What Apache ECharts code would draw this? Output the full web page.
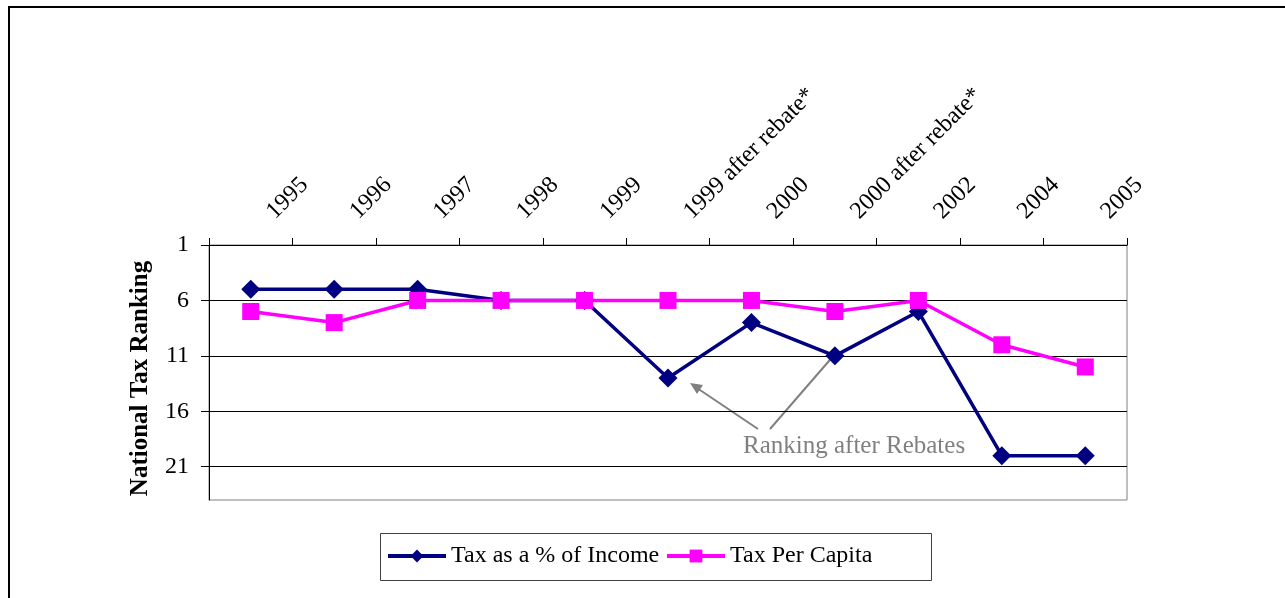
<!DOCTYPE html>
<html><head><meta charset="utf-8">
<script src="https://cdn.jsdelivr.net/npm/echarts@6/dist/echarts.min.js"></script>
<style>html,body{margin:0;padding:0;background:#fff}#c{width:1285px;height:598px}</style>
</head><body><div id="c"></div>
<script>
const categories = ['1995','1996','1997','1998','1999','1999 after rebate*','2000','2000 after rebate*','2002','2004','2005'];
const taxPctIncome = [5,5,5,6,6,13,8,11,7,20,20];
const taxPerCapita = [7,8,6,6,6,6,6,7,6,10,12];
const yTicks = [1,6,11,16,21];
const seriesNames = ['Tax as a % of Income', 'Tax Per Capita'];
const FONT = 'Liberation Serif';

const legendBase = {
  top: 544, itemWidth: 58, itemHeight: 16, padding: 0,
  textStyle: {fontFamily: FONT, fontSize: 24, color: '#000'}
};

const chart = echarts.init(document.getElementById('c'));
chart.setOption({
  animation: false,
  backgroundColor: '#fff',
  grid: {left: 209, top: 245, right: 158, bottom: 98, show: true, borderColor: '#808080', borderWidth: 1, backgroundColor: 'transparent'},
  xAxis: {
    type: 'category', data: categories, position: 'top', boundaryGap: true,
    axisLine: {show: true, lineStyle: {color: '#000', width: 1}},
    axisTick: {show: true, length: 7, inside: false, lineStyle: {color: '#000'}},
    axisLabel: {rotate: -45, interval: 0, fontFamily: FONT, fontSize: 24, color: '#000', margin: 10, padding: [0, 0, 0, 28]},
    splitLine: {show: false}
  },
  yAxis: {
    type: 'value', inverse: true, min: 1, max: 24, interval: 5,
    name: 'National Tax Ranking', nameLocation: 'middle', nameRotate: 90, nameGap: 56,
    nameTextStyle: {fontFamily: FONT, fontSize: 25, fontWeight: 'bold', color: '#000', padding: [0, 12, 0, 0]},
    axisLine: {show: true, lineStyle: {color: '#000', width: 1}},
    axisTick: {show: true, length: 8, lineStyle: {color: '#000'}, customValues: yTicks},
    axisLabel: {fontFamily: FONT, fontSize: 24, color: '#000', margin: 20, customValues: yTicks},
    splitLine: {show: true, lineStyle: {color: '#000', width: 1}}
  },
  legend: [
    Object.assign({left: 386, data: [{name: seriesNames[0], lineStyle: {width: 4}}]}, legendBase),
    Object.assign({left: 665, data: [{name: seriesNames[1], lineStyle: {width: 4}}]}, legendBase)
  ],
  series: [
    {name: seriesNames[0], type: 'line', data: taxPctIncome, symbol: 'diamond', symbolSize: 19,
     lineStyle: {color: '#000080', width: 3.5}, itemStyle: {color: '#000080'}},
    {name: seriesNames[1], type: 'line', data: taxPerCapita, symbol: 'rect', symbolSize: 17,
     lineStyle: {color: '#FF00FF', width: 3.5}, itemStyle: {color: '#FF00FF'}}
  ],
  graphic: [
    {type: 'rect', shape: {x: 9, y: 7, width: 1400, height: 700}, style: {fill: 'none', stroke: '#000', lineWidth: 2}, silent: true},
    {type: 'rect', shape: {x: 380.5, y: 533.5, width: 551, height: 47}, style: {fill: 'none', stroke: '#404040', lineWidth: 1}, silent: true},
    {type: 'text', left: 743, top: 434, style: {text: 'Ranking after Rebates', font: '25px "Liberation Serif"', fill: '#808080'}},
    {type: 'line', shape: {x1: 758, y1: 429, x2: 694, y2: 386}, style: {stroke: '#808080', lineWidth: 2}},
    {type: 'polygon', shape: {points: [[690,383],[703,385],[697,394]]}, style: {fill: '#808080'}},
    {type: 'line', shape: {x1: 770, y1: 429, x2: 835, y2: 354}, style: {stroke: '#808080', lineWidth: 2}},
    {type: 'polygon', shape: {points: [[838,350],[836,362],[827,355]]}, style: {fill: '#808080'}}
  ]
});
</script></body></html>
